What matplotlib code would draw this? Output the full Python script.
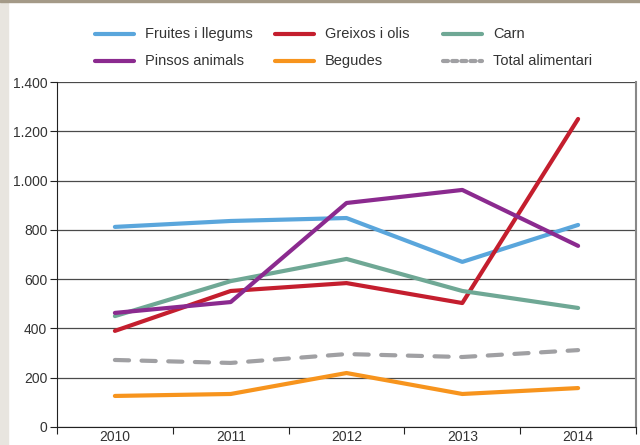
import matplotlib.pyplot as plt
import matplotlib
from matplotlib.patches import Rectangle
from matplotlib.lines import Line2D
from matplotlib.ticker import FuncFormatter, FixedLocator

matplotlib.rcParams['font.family'] = ['Liberation Sans', 'DejaVu Sans']

years = ['2010', '2011', '2012', '2013', '2014']
fruites = [812, 836, 848, 670, 820]
greixos = [390, 552, 584, 503, 1250]
carn = [450, 592, 682, 552, 483]
pinsos = [463, 507, 909, 962, 735]
begudes = [126, 134, 219, 134, 158]
total = [272, 260, 296, 284, 312]

series = [
    ('Fruites i llegums', fruites, '#5aa6dc', '-'),
    ('Greixos i olis', greixos, '#c41e2e', '-'),
    ('Carn', carn, '#6fa895', '-'),
    ('Pinsos animals', pinsos, '#8b2a8f', '-'),
    ('Begudes', begudes, '#f7941d', '-'),
    ('Total alimentari', total, '#a0a0a3', (0, (3.4, 3.0))),
]

W, H = 640, 445
fig = plt.figure(figsize=(6.4, 4.45), dpi=100)
# franja lateral i vora superior
fig.patches.append(Rectangle((0, 0), 8 / W, 1, transform=fig.transFigure,
                             color='#e8e5df', zorder=0))
fig.patches.append(Rectangle((0, 1 - 2 / H), 1, 2 / H, transform=fig.transFigure,
                             color='#a49a88', zorder=0))

ax = fig.add_axes([57 / W, 18 / H, 579 / W, 345 / H])
x = range(len(years))
for name, vals, col, ls in series:
    ax.plot(x, vals, color=col, lw=3, ls=ls, solid_capstyle='round',
            dash_capstyle='round', zorder=3)

ax.set_xlim(-0.5, 4.5)
ax.set_ylim(0, 1400)
ax.set_yticks(range(0, 1401, 200))
ax.yaxis.set_major_formatter(FuncFormatter(lambda v, p: '{:,.0f}'.format(v).replace(',', '.')))
ax.grid(axis='y', color='#4a4a4a', lw=0.9, zorder=1)
ax.xaxis.set_major_locator(FixedLocator([-0.5, 0.5, 1.5, 2.5, 3.5, 4.5]))
ax.xaxis.set_major_formatter(FuncFormatter(lambda v, p: ''))
ax.set_xticks(list(x), years, minor=True)
ax.tick_params(axis='x', which='minor', length=0, pad=2)
ax.tick_params(axis='x', which='major', length=5, color='#222')
ax.tick_params(axis='y', length=5, color='#222', pad=2)
ax.tick_params(labelsize=10, labelcolor='#333')
for lab in ax.get_xticklabels(minor=True):
    lab.set_fontsize(10)
    lab.set_color('#333')
ax.spines['top'].set_visible(False)
ax.spines['left'].set_color('#222')
ax.spines['bottom'].set_color('#222')
ax.spines['right'].set_color('#888')
ax.spines['right'].set_linewidth(1.5)

# llegenda en dues files i tres columnes
col_x = [95, 275, 443]
row_y = [34, 61]
slots = [(0, 0), (1, 0), (2, 0), (0, 1), (1, 1), (2, 1)]
for (name, vals, col, ls), (c, r) in zip(series, slots):
    x0, y0 = col_x[c] / W, 1 - row_y[r] / H
    dash = (0, (1.2, 1.0)) if ls != '-' else '-'
    fig.add_artist(Line2D([x0, x0 + 39 / W], [y0, y0], transform=fig.transFigure,
                          color=col, lw=3, ls=dash, solid_capstyle='round',
                          dash_capstyle='round'))
    fig.text(x0 + 50 / W, y0, name, fontsize=10.5, color='#333', va='center', ha='left')

fig.savefig('out.png', dpi=100)
